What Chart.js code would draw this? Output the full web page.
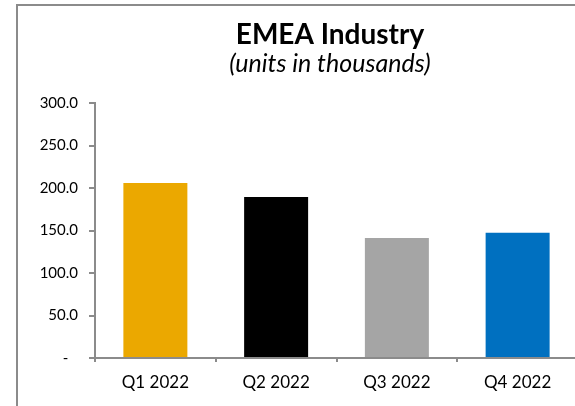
<!DOCTYPE html>
<html>
<head>
<meta charset="utf-8">
<script src="https://cdn.jsdelivr.net/npm/chart.js@4/dist/chart.umd.min.js"></script>
<style>
  html, body { margin: 0; padding: 0; background: #ffffff; overflow: hidden; width: 575px; height: 406px; }
  #frame { position: absolute; left: 16px; top: 4px; width: 640px; height: 460px; border: 2px solid #8b8b8b; box-sizing: border-box; }
  #wrap { position: absolute; left: 0; top: 0; width: 660px; height: 406px; }
</style>
</head>
<body>
<div id="frame"></div>
<div id="wrap"><canvas id="chart"></canvas></div>
<script>
// Quarterly industry volume, EMEA (thousands of units)
const quarters = ['Q1 2022', 'Q2 2022', 'Q3 2022', 'Q4 2022'];
const units = [205.9, 189.4, 141.2, 147.5];
const barColors = ['#EBA800', '#000000', '#A5A5A5', '#0070C0'];
const yTicks = [0, 50, 100, 150, 200, 250, 300];

const titleText = 'EMEA Industry';
const subtitleText = '(units in thousands)';

const axisGrey = '#8b8b8b';
const labelFont = "Lato, 'Open Sans', sans-serif";

// accounting-style tick labels: zero shown as a dash
function fmt(v) {
  if (v === 0) return '-\u2007\u200A';
  return v.toFixed(1);
}

new Chart(document.getElementById('chart'), {
  type: 'bar',
  data: {
    labels: quarters,
    datasets: [{
      data: units,
      backgroundColor: barColors,
      borderWidth: 0,
      barPercentage: 0.53,
      categoryPercentage: 1.0
    }]
  },
  options: {
    responsive: true,
    maintainAspectRatio: false,
    animation: false,
    layout: { padding: 0 },
    plugins: {
      legend: { display: false },
      tooltip: { enabled: false },
      title: {
        display: true,
        text: titleText,
        color: '#000000',
        font: { family: labelFont, size: 28, weight: 'bold', lineHeight: 1.0 },
        padding: { top: 21, bottom: 0 }
      },
      subtitle: {
        display: true,
        text: subtitleText,
        color: '#000000',
        font: { family: labelFont, size: 25, style: 'italic', lineHeight: 1.0 },
        padding: { top: 2, bottom: 27 }
      }
    },
    scales: {
      x: {
        afterFit: (s) => { s.height = 48; },
        border: { display: true, color: axisGrey, width: 2 },
        grid: { display: true, drawOnChartArea: false, drawTicks: true, tickLength: 4, color: axisGrey, lineWidth: 2, offset: true },
        ticks: { color: '#000000', font: { family: labelFont, size: 17 }, padding: 10 }
      },
      y: {
        min: 0,
        max: 300,
        afterFit: (s) => { s.width = 95; },
        afterBuildTicks: (s) => { s.ticks = yTicks.map(v => ({ value: v })); },
        border: { display: true, color: axisGrey, width: 2 },
        grid: { display: true, drawOnChartArea: false, drawTicks: true, tickLength: 6, color: axisGrey, lineWidth: 2 },
        ticks: { color: '#000000', font: { family: labelFont, size: 15 }, padding: 11, callback: (v) => fmt(v) }
      },
      // empty spacer on the right so the plot runs past the visible edge
      spacer: {
        type: 'linear',
        position: 'right',
        display: true,
        afterFit: (s) => { s.width = 82; },
        border: { display: false },
        grid: { display: false },
        ticks: { display: false }
      }
    }
  }
});
</script>
</body>
</html>
